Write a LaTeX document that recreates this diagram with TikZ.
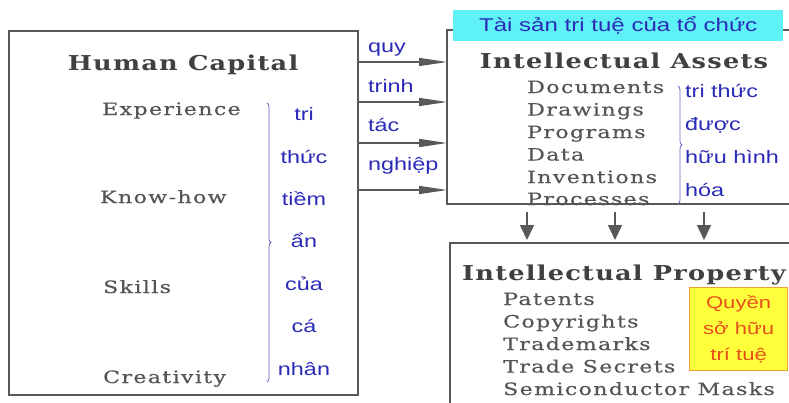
\documentclass[tikz,border=0pt]{standalone}
\usepackage{fontspec}
\setmainfont{DejaVu Serif}
\newfontfamily\itemfont{DejaVu Serif}[FakeStretch=1.3,LetterSpace=8,FakeBold=0.4]
\newfontfamily\titlefont{DejaVu Serif}[FakeStretch=1.25,LetterSpace=6]
\newfontfamily\vnfont{Liberation Sans}[FakeStretch=1.3]
\usetikzlibrary{arrows.meta,decorations.pathreplacing}
\definecolor{txtgray}{HTML}{555555}
\definecolor{ttlgray}{HTML}{404040}
\definecolor{vnblue}{HTML}{2B2BB8}
\definecolor{hdrcyan}{HTML}{5EF2F6}
\definecolor{linegray}{HTML}{585858}
\definecolor{braceblue}{HTML}{6A6AC0}
\definecolor{yel}{HTML}{FFFF3C}
\definecolor{yelborder}{HTML}{F0A030}
\definecolor{qorange}{HTML}{E8501A}
\begin{document}
\begin{tikzpicture}[x=1pt,y=-1pt,
  box/.style={draw=linegray,line width=1.5pt,anchor=north west,inner sep=0pt,outer sep=0pt},
  title/.style={anchor=base,inner sep=0pt,text=ttlgray,font=\titlefont\bfseries\fontsize{20.5}{24}\selectfont},
  item/.style={anchor=base west,inner sep=0pt,text=txtgray,font=\itemfont\fontsize{17}{20}\selectfont},
  vn/.style={anchor=base,inner sep=0pt,text=vnblue,font=\vnfont\fontsize{18}{21}\selectfont},
  vnw/.style={vn,anchor=base west},
  harr/.style={draw=linegray,line width=1.5pt,-{Triangle[length=28pt,width=8pt]}},
  varr/.style={draw=linegray,line width=1.5pt,-{Triangle[length=15pt,width=14pt]},shorten <=8pt,shorten >=3pt},
  bracestyle/.style={draw=braceblue,line width=0.8pt,decorate,decoration={brace,amplitude=4pt}}
]
\clip (0,0) rectangle (789,402);
\fill[white] (0,0) rectangle (789,402);
% boxes
\node[box,minimum width=349pt,minimum height=364pt] (hc) at (9,31) {};
\node[box,minimum width=360pt,minimum height=174pt] (ia) at (447,30) {};
\node[box,minimum width=360pt,minimum height=200pt] (ip) at (450,243) {};
\node[anchor=north west,inner sep=0pt,fill=hdrcyan,minimum width=330pt,minimum height=31pt,text=vnblue,font=\vnfont\fontsize{18.5}{21}\selectfont] (hdr) at (453,10) {Tài sản tri tuệ của tổ chức};
% Human capital
\node[title] (hcT) at (183,70) {Human Capital};
\node[item] (exp) at (102,115) {Experience};
\node[item] (know) at (100,203) {Know-how};
\node[item] (skl) at (103,293) {Skills};
\node[item] (crt) at (103,383) {Creativity};
\node[vn] (l1) at (304,120) {tri};
\node[vn] (l2) at (304,163) {thức};
\node[vn] (l3) at (304,205) {tiềm};
\node[vn] (l4) at (304,247) {ẩn};
\node[vn] (l5) at (304,290) {của};
\node[vn] (l6) at (304,332) {cá};
\node[vn] (l7) at (304,375) {nhân};
\coordinate (bl1) at (267,103);
\coordinate (bl2) at (267,382);
\draw[bracestyle] (bl1) -- (bl2);
% arrows with labels
\node[vnw] (quy) at (368,52) {quy};
\node[vnw] (trinh) at (368,92) {trinh};
\node[vnw] (tac) at (368,131) {tác};
\node[vnw] (ngh) at (368,170) {nghiệp};
\coordinate (y1) at (0,62);
\coordinate (y2) at (0,102);
\coordinate (y3) at (0,143);
\coordinate (y4) at (0,190);
\draw[harr] (hc.east |- y1) -- (ia.west |- y1);
\draw[harr] (hc.east |- y2) -- (ia.west |- y2);
\draw[harr] (hc.east |- y3) -- (ia.west |- y3);
\draw[harr] (hc.east |- y4) -- (ia.west |- y4);
% Intellectual assets
\node[title] (iaT) at (624,68) {Intellectual Assets};
\node[item] (doc) at (527,93) {Documents};
\node[item] (drw) at (527,115.5) {Drawings};
\node[item] (prg) at (527,138) {Programs};
\node[item] (dat) at (527,160.5) {Data};
\node[item] (inv) at (527,183) {Inventions};
\node[item] (prc) at (527,205) {Processes};
\coordinate (br1) at (678,86);
\coordinate (br2) at (678,204);
\draw[bracestyle] (br1) -- (br2);
\node[vnw] (r1) at (685,97) {tri thức};
\node[vnw] (r2) at (685,130) {được};
\node[vnw] (r3) at (685,163) {hữu hình};
\node[vnw] (r4) at (685,196) {hóa};
% down arrows
\coordinate (x1) at (527,0);
\coordinate (x2) at (615,0);
\coordinate (x3) at (704,0);
\draw[varr] (ia.south -| x1) -- (ip.north -| x1);
\draw[varr] (ia.south -| x2) -- (ip.north -| x2);
\draw[varr] (ia.south -| x3) -- (ip.north -| x3);
% Intellectual property
\node[title] (ipT) at (624,280) {Intellectual Property};
\node[item] (pat) at (503,305) {Patents};
\node[item] (cpy) at (503,327.5) {Copyrights};
\node[item] (tdm) at (503,350) {Trademarks};
\node[item] (sec) at (503,372.5) {Trade Secrets};
\node[item] (smc) at (503,395) {Semiconductor Masks};
\node[anchor=north west,inner sep=0pt,fill=yel,draw=yelborder,line width=1.2pt,minimum width=98pt,minimum height=83pt,align=center,text=qorange,font=\vnfont\fontsize{17}{26}\selectfont] (qs) at (689,287) {Quyền\\sở hữu\\trí tuệ};
\end{tikzpicture}
\end{document}
